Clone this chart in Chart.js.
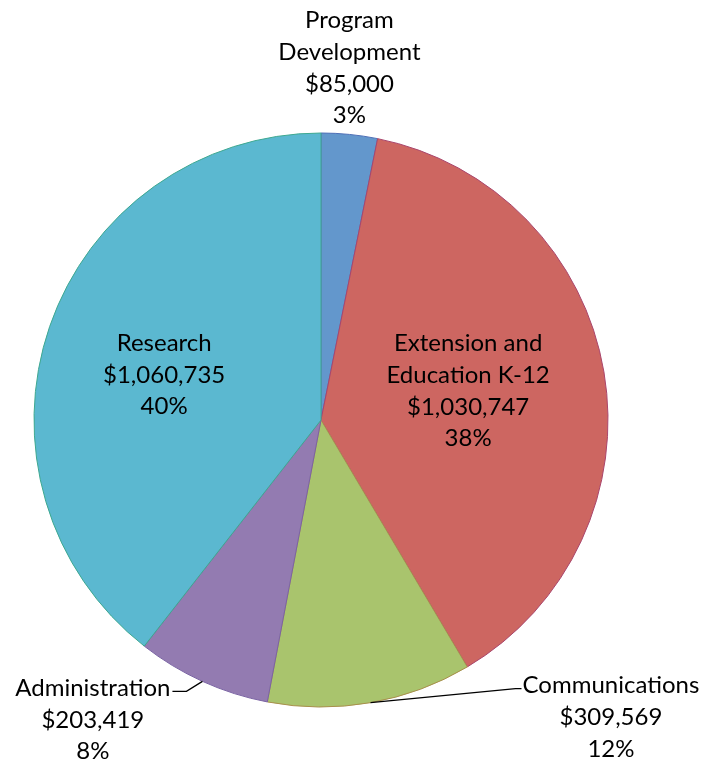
<!DOCTYPE html>
<html>
<head>
<meta charset="utf-8">
<script src="https://cdn.jsdelivr.net/npm/chart.js@4"></script>
<style>
  html, body { margin: 0; padding: 0; background: #ffffff; }
  #wrap { position: relative; width: 709px; height: 764px; }
</style>
</head>
<body>
<div id="wrap"><canvas id="c"></canvas></div>
<script>
const categories = ['Program Development', 'Extension and Education K-12', 'Communications', 'Administration', 'Research'];
const nameLines = [['Program', 'Development'], ['Extension and', 'Education K-12'], ['Communications'], ['Administration'], ['Research']];
const amounts = [85000, 1030747, 309569, 203419, 1060735];
const amountLabels = ['$85,000', '$1,030,747', '$309,569', '$203,419', '$1,060,735'];
const percentLabels = ['3%', '38%', '12%', '8%', '40%'];
const fillColors = ['#6397cc', '#cd6661', '#a9c46d', '#937bb1', '#5bb8d0'];
const edgeColors = ['#4e6fb6', '#a9456c', '#a88f4c', '#7a63a3', '#3ea890'];

const FONT = '24px Lato, "Open Sans", sans-serif';
const LINE = 31.6;

const labelPlugin = {
  id: 'sliceLabels',
  afterDatasetsDraw(chart) {
    const ctx = chart.ctx;
    const arcs = chart.getDatasetMeta(0).data;
    ctx.save();
    ctx.font = FONT;
    ctx.fillStyle = '#000000';
    ctx.textBaseline = 'middle';
    ctx.strokeStyle = '#000000';
    ctx.lineWidth = 1.3;
    arcs.forEach((arc, i) => {
      const p = arc.getProps(['x', 'y', 'startAngle', 'endAngle', 'outerRadius'], true);
      const mid = (p.startAngle + p.endAngle) / 2;
      const at = (d) => ({ x: p.x + Math.cos(mid) * d, y: p.y + Math.sin(mid) * d });
      const lines = nameLines[i].concat([amountLabels[i], percentLabels[i]]);
      const drawBlock = (cx, firstY) => {
        ctx.textAlign = 'center';
        lines.forEach((t, j) => ctx.fillText(t, cx, firstY + j * LINE));
      };
      if (i === 0) {
        const e = at(p.outerRadius);
        const lastY = e.y - 19;
        drawBlock(e.x, lastY - (lines.length - 1) * LINE);
      } else if (i === 1) {
        const c = at(p.outerRadius * 0.52);
        drawBlock(c.x, c.y - 4 - (lines.length - 1) * LINE / 2);
      } else if (i === 4) {
        const c = at(p.outerRadius * 0.578);
        drawBlock(c.x, c.y + 9 - (lines.length - 1) * LINE / 2);
      } else if (i === 2) {
        const e = at(p.outerRadius);
        const elbow = { x: e.x + 145, y: e.y - 14 };
        ctx.beginPath();
        ctx.moveTo(e.x, e.y);
        ctx.lineTo(elbow.x, elbow.y);
        ctx.lineTo(elbow.x + 6, elbow.y);
        ctx.stroke();
        const w = ctx.measureText(lines[0]).width;
        drawBlock(elbow.x + 7 + w / 2, elbow.y - 3);
      } else if (i === 3) {
        const e = at(p.outerRadius);
        const elbow = { x: e.x - 16, y: e.y + 10 };
        ctx.beginPath();
        ctx.moveTo(e.x, e.y);
        ctx.lineTo(elbow.x, elbow.y);
        ctx.lineTo(elbow.x - 14, elbow.y);
        ctx.stroke();
        const w = ctx.measureText(lines[0]).width;
        drawBlock(elbow.x - 16 - w / 2, elbow.y - 3);
      }
    });
    ctx.restore();
  }
};

new Chart(document.getElementById('c'), {
  type: 'pie',
  data: {
    labels: categories,
    datasets: [{
      data: amounts,
      backgroundColor: fillColors,
      borderColor: edgeColors,
      borderWidth: 1,
      hoverOffset: 0
    }]
  },
  options: {
    responsive: true,
    maintainAspectRatio: false,
    animation: false,
    devicePixelRatio: 1,
    layout: { padding: { left: 33.5, right: 100.5, top: 132.5, bottom: 56.5 } },
    plugins: {
      legend: { display: false },
      tooltip: { enabled: false }
    },
    events: []
  },
  plugins: [labelPlugin]
});
</script>
</body>
</html>
